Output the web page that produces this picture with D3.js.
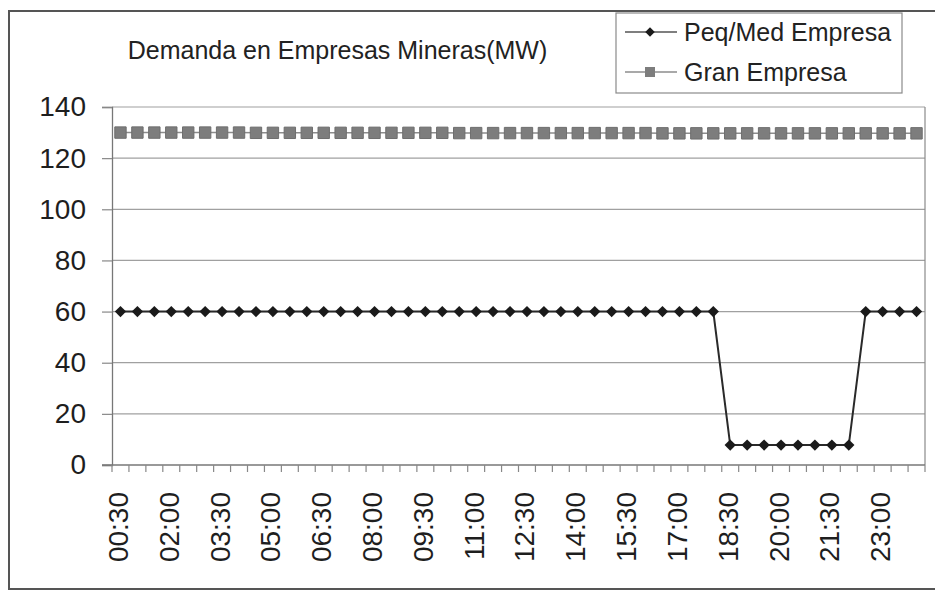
<!DOCTYPE html>
<html>
<head>
<meta charset="utf-8">
<script src="https://cdn.jsdelivr.net/npm/d3@7/dist/d3.min.js"></script>
<style>
  html, body { margin: 0; padding: 0; background: #fff; }
  svg { display: block; font-family: "Liberation Sans", Arial, sans-serif; }
</style>
</head>
<body>
<svg id="chart" width="935" height="591"></svg>
<script>
// Half-hour intervals of the day
const times = [
  "00:30","01:00","01:30","02:00","02:30","03:00","03:30","04:00",
  "04:30","05:00","05:30","06:00","06:30","07:00","07:30","08:00",
  "08:30","09:00","09:30","10:00","10:30","11:00","11:30","12:00",
  "12:30","13:00","13:30","14:00","14:30","15:00","15:30","16:00",
  "16:30","17:00","17:30","18:00","18:30","19:00","19:30","20:00",
  "20:30","21:00","21:30","22:00","22:30","23:00","23:30","24:00"
];

// Demand of small/medium mining companies (MW)
const peqMed = [
  60, 60, 60, 60, 60, 60, 60, 60, 60, 60, 60, 60,
  60, 60, 60, 60, 60, 60, 60, 60, 60, 60, 60, 60,
  60, 60, 60, 60, 60, 60, 60, 60, 60, 60, 60, 60,
  7.8, 7.8, 7.8, 7.8, 7.8, 7.8, 7.8, 7.8,
  60, 60, 60, 60
];

// Demand of large mining companies (MW)
const gran = [
  130.0, 130.0, 130.0, 130.0, 130.0, 130.0, 130.0, 130.0,
  129.9, 129.9, 129.9, 129.9, 129.9, 129.9, 129.9, 129.9,
  129.9, 129.9, 129.9, 129.9, 129.8, 129.8, 129.8, 129.8,
  129.8, 129.8, 129.8, 129.8, 129.8, 129.8, 129.8, 129.8,
  129.7, 129.7, 129.7, 129.7, 129.7, 129.7, 129.7, 129.7,
  129.7, 129.7, 129.7, 129.7, 129.7, 129.7, 129.7, 129.7
];

const yTicks = [0, 20, 40, 60, 80, 100, 120, 140];
const seriesNames = ["Peq/Med Empresa", "Gran Empresa"];
const chartTitle = "Demanda en Empresas Mineras(MW)";

const svg = d3.select("#chart");

const plot = { left: 112, right: 925, top: 107, bottom: 465 };

const x = d3.scaleBand().domain(times).range([plot.left, plot.right]).padding(0);
const y = d3.scaleLinear().domain([0, 140]).range([plot.bottom, plot.top]);
const cx = d => x(d) + x.bandwidth() / 2;

// Outer chart frame
svg.append("rect")
  .attr("x", 9).attr("y", 11)
  .attr("width", 940).attr("height", 578)
  .attr("fill", "#fff")
  .attr("stroke", "#555").attr("stroke-width", 2);

// Horizontal gridlines
svg.append("g")
  .selectAll("line")
  .data(yTicks.filter(v => v > 0))
  .join("line")
  .attr("x1", plot.left).attr("x2", plot.right)
  .attr("y1", d => y(d)).attr("y2", d => y(d))
  .attr("stroke", "#a0a0a0").attr("stroke-width", 1.2);

// Plot-area border (right side)
svg.append("line")
  .attr("x1", plot.right).attr("x2", plot.right)
  .attr("y1", plot.top).attr("y2", plot.bottom)
  .attr("stroke", "#8a8a8a").attr("stroke-width", 1.2);

// Y axis
const yAxis = svg.append("g")
  .attr("transform", `translate(${plot.left},0)`)
  .call(d3.axisLeft(y).tickValues(yTicks).tickSize(10).tickPadding(16));
yAxis.select(".domain").attr("stroke", "#777").attr("stroke-width", 1.3);
yAxis.selectAll(".tick line").attr("stroke", "#888").attr("stroke-width", 1.2);
yAxis.selectAll(".tick text")
  .attr("font-size", 28).attr("fill", "#1e1e1e")
  .attr("font-family", "Liberation Sans, Arial, sans-serif");

// X axis line
svg.append("line")
  .attr("x1", plot.left - 10).attr("x2", plot.right)
  .attr("y1", plot.bottom).attr("y2", plot.bottom)
  .attr("stroke", "#777").attr("stroke-width", 1.5);

// X tick marks at category boundaries
const boundaries = times.map(t => x(t)).concat([x(times[times.length - 1]) + x.bandwidth()]);
svg.append("g")
  .selectAll("line")
  .data(boundaries)
  .join("line")
  .attr("x1", d => d).attr("x2", d => d)
  .attr("y1", plot.bottom).attr("y2", plot.bottom + 7)
  .attr("stroke", "#888").attr("stroke-width", 1.2);

// X labels, every third interval, rotated
svg.append("g")
  .selectAll("text")
  .data(times.filter((t, i) => i % 3 === 0))
  .join("text")
  .attr("transform", d => `translate(${cx(d) + 7.5},${plot.bottom + 27}) rotate(-90)`)
  .attr("text-anchor", "end")
  .attr("font-size", 28)
  .attr("fill", "#1e1e1e")
  .text(d => d);

// Series lines
const line = d3.line().x(d => cx(d.t)).y(d => y(d.v));
const granData = times.map((t, i) => ({ t, v: gran[i] }));
const peqData = times.map((t, i) => ({ t, v: peqMed[i] }));

svg.append("path")
  .datum(granData)
  .attr("d", line)
  .attr("fill", "none")
  .attr("stroke", "#8c8c8c").attr("stroke-width", 1.5);

svg.append("g")
  .selectAll("path")
  .data(granData)
  .join("path")
  .attr("transform", d => `translate(${cx(d.t)},${y(d.v)})`)
  .attr("d", d3.symbol(d3.symbolSquare, 130)())
  .attr("fill", "#7d7d7d").attr("stroke", "#6e6e6e").attr("stroke-width", 1);

svg.append("path")
  .datum(peqData)
  .attr("d", line)
  .attr("fill", "none")
  .attr("stroke", "#2a2a2a").attr("stroke-width", 2);

svg.append("g")
  .selectAll("path")
  .data(peqData)
  .join("path")
  .attr("transform", d => `translate(${cx(d.t)},${y(d.v)}) rotate(45)`)
  .attr("d", d3.symbol(d3.symbolSquare, 64)())
  .attr("fill", "#1a1a1a");

// Title
svg.append("text")
  .attr("x", 337.5).attr("y", 59)
  .attr("text-anchor", "middle")
  .attr("font-size", 25)
  .attr("fill", "#222")
  .text(chartTitle);

// Legend
const legend = svg.append("g");
legend.append("rect")
  .attr("x", 616).attr("y", 13)
  .attr("width", 286).attr("height", 80)
  .attr("fill", "#fff")
  .attr("stroke", "#8a8a8a").attr("stroke-width", 1.2);

const legendRows = [
  { name: seriesNames[0], cy: 32, kind: "diamond" },
  { name: seriesNames[1], cy: 72, kind: "square" }
];
legendRows.forEach(r => {
  legend.append("line")
    .attr("x1", 625).attr("x2", 677)
    .attr("y1", r.cy).attr("y2", r.cy)
    .attr("stroke", r.kind === "diamond" ? "#555" : "#8c8c8c")
    .attr("stroke-width", 1.5);
  if (r.kind === "diamond") {
    legend.append("path")
      .attr("transform", `translate(650,${r.cy}) rotate(45)`)
      .attr("d", d3.symbol(d3.symbolSquare, 45)())
      .attr("fill", "#1a1a1a");
  } else {
    legend.append("path")
      .attr("transform", `translate(650,${r.cy})`)
      .attr("d", d3.symbol(d3.symbolSquare, 100)())
      .attr("fill", "#7d7d7d");
  }
  legend.append("text")
    .attr("x", 684).attr("y", r.cy + 8.5)
    .attr("font-size", 25)
    .attr("fill", "#222")
    .text(r.name);
});
</script>
</body>
</html>
